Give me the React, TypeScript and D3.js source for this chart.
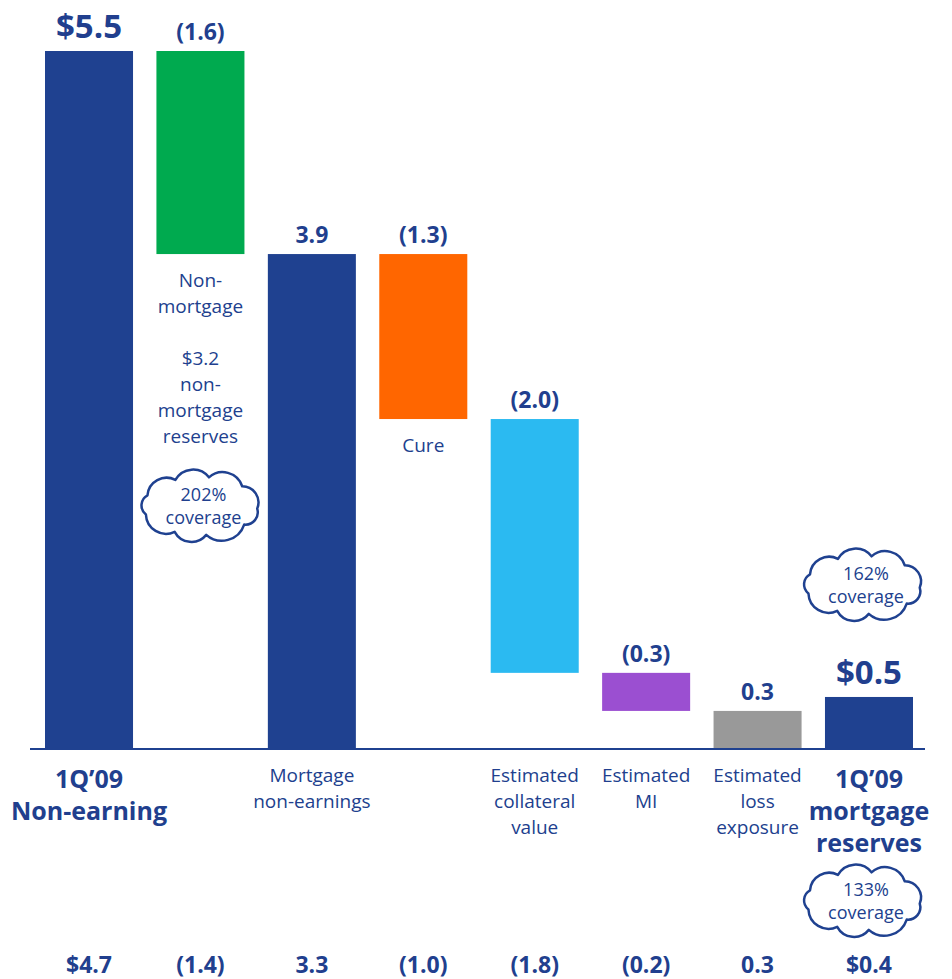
import React from "react";
import * as d3 from "d3";

// ---- data ----
const categories = [
  "1Q’09 Non-earning",
  "Non-mortgage",
  "Mortgage non-earnings",
  "Cure",
  "Estimated collateral value",
  "Estimated MI",
  "Estimated loss exposure",
  "1Q’09 mortgage reserves",
];
const barKinds = ["total", "delta", "total", "delta", "delta", "delta", "total", "total"];
const barValues = [5.5, -1.6, 3.9, -1.3, -2.0, -0.3, 0.3, 0.41];
const topLabels = ["$5.5", "(1.6)", "3.9", "(1.3)", "(2.0)", "(0.3)", "0.3", "$0.5"];
const bottomValues = ["$4.7", "(1.4)", "3.3", "(1.0)", "(1.8)", "(0.2)", "0.3", "$0.4"];
const categoryLines: string[][] = [
  ["1Q’09", "Non-earning"],
  ["Non-", "mortgage", "", "$3.2", "non-", "mortgage", "reserves"],
  ["Mortgage", "non-earnings"],
  ["Cure"],
  ["Estimated", "collateral", "value"],
  ["Estimated", "MI"],
  ["Estimated", "loss", "exposure"],
  ["1Q’09", "mortgage", "reserves"],
];
const labelUnderBar = [false, true, false, true, false, false, false, false];
const clouds = [
  { cat: 1, lines: ["202%", "coverage"], place: "mid" },
  { cat: 7, lines: ["162%", "coverage"], place: "above" },
  { cat: 7, lines: ["133%", "coverage"], place: "below" },
];

// ---- style ----
const NAVY = "#1f4190";
const TEXT = "#213f8e";
const colors = ["#1f4190", "#00aa4f", "#1f4190", "#ff6600", "#2bbaf1", "#9b4fd1", "#999999", "#1f4190"];
const FONT = "'Open Sans', 'DejaVu Sans', sans-serif";

function cloudPath(cx: number, cy: number, rx: number, ry: number) {
  const weights = [1.0, 1.25, 0.9, 1.15, 0.85, 1.2, 1.0, 1.1, 0.9];
  const total = d3.sum(weights);
  let a = -Math.PI / 2 + 0.15;
  const pt = (ang: number) => [cx + Math.cos(ang) * rx, cy + Math.sin(ang) * ry];
  const [sx, sy] = pt(a);
  let d = `M${sx.toFixed(2)},${sy.toFixed(2)}`;
  weights.forEach((w) => {
    const step = (w / total) * Math.PI * 2;
    const [px, py] = pt(a);
    const [ex, ey] = pt(a + step);
    const chord = Math.hypot(ex - px, ey - py);
    const r = chord * 0.6;
    d += ` A${r.toFixed(2)},${r.toFixed(2)} 0 0 1 ${ex.toFixed(2)},${ey.toFixed(2)}`;
    a += step;
  });
  return d + " Z";
}

export default function App() {
  const W = 952;
  const H = 979;
  const x = d3.scaleBand<string>().domain(categories).range([45, 913]).paddingInner(0.21).paddingOuter(0);
  const y = d3.scaleLinear().domain([0, 5.5]).range([749, 51]);

  let running = 0;
  const bars = categories.map((c, i) => {
    let start: number, end: number;
    if (barKinds[i] === "total") {
      start = 0;
      end = barValues[i];
    } else {
      start = running;
      end = running + barValues[i];
    }
    running = end;
    return { c, i, start, end, hi: Math.max(start, end), lo: Math.min(start, end) };
  });

  const bw = x.bandwidth();
  const cxOf = (c: string) => (x(c) as number) + bw / 2;

  return (
    <svg width={W} height={H} style={{ position: "absolute", left: 0, top: 0, background: "#fff" }} fontFamily={FONT}>
      {bars.map((b) => (
        <rect key={"r" + b.i} x={x(b.c)} y={y(b.hi)} width={bw} height={y(b.lo) - y(b.hi)} fill={colors[b.i]} />
      ))}
      <line x1={30} x2={925} y1={y(0)} y2={y(0)} stroke={NAVY} strokeWidth={2} />

      {/* top labels */}
      {bars.map((b) => {
        const big = b.i === 0 || b.i === 7;
        return (
          <text
            key={"t" + b.i}
            x={cxOf(b.c)}
            y={y(b.hi) - (big ? 13 : 11)}
            textAnchor="middle"
            fontWeight="bold"
            fontSize={big ? 33 : 23}
            fill={TEXT}
          >
            {topLabels[b.i]}
          </text>
        );
      })}

      {/* category labels */}
      {bars.map((b) => {
        const bold = b.i === 0 || b.i === 7;
        const startY = bold ? y(0) + 39 : (labelUnderBar[b.i] ? y(b.lo) : y(0)) + 33;
        const lh = bold ? 32 : 26;
        return (
          <text
            key={"c" + b.i}
            textAnchor="middle"
            fontWeight={bold ? "bold" : "normal"}
            fontSize={bold ? 25 : 19}
            fill={TEXT}
          >
            {categoryLines[b.i].map((ln, k) => (
              <tspan key={k} x={cxOf(b.c)} y={startY + k * lh}>
                {ln}
              </tspan>
            ))}
          </text>
        );
      })}

      {/* clouds */}
      {clouds.map((cl, k) => {
        const cx = cxOf(categories[cl.cat]) - (cl.cat === 7 ? 6 : 0);
        const cy = cl.place === "mid" ? 506 : cl.place === "above" ? 585 : 901;
        return (
          <g key={"cl" + k}>
            <path d={cloudPath(cx, cy, 57, 29)} fill="#fff" stroke={NAVY} strokeWidth={2.5} strokeLinejoin="round" />
            <text x={cx + 3} y={cy - 5} textAnchor="middle" fontSize={18} fill={TEXT}>
              {cl.lines[0]}
            </text>
            <text x={cx + 3} y={cy + 18} textAnchor="middle" fontSize={18} fill={TEXT}>
              {cl.lines[1]}
            </text>
          </g>
        );
      })}

      {/* bottom values */}
      {bars.map((b) => (
        <text key={"b" + b.i} x={cxOf(b.c)} y={973} textAnchor="middle" fontWeight="bold" fontSize={23} fill={TEXT}>
          {bottomValues[b.i]}
        </text>
      ))}
    </svg>
  );
}
